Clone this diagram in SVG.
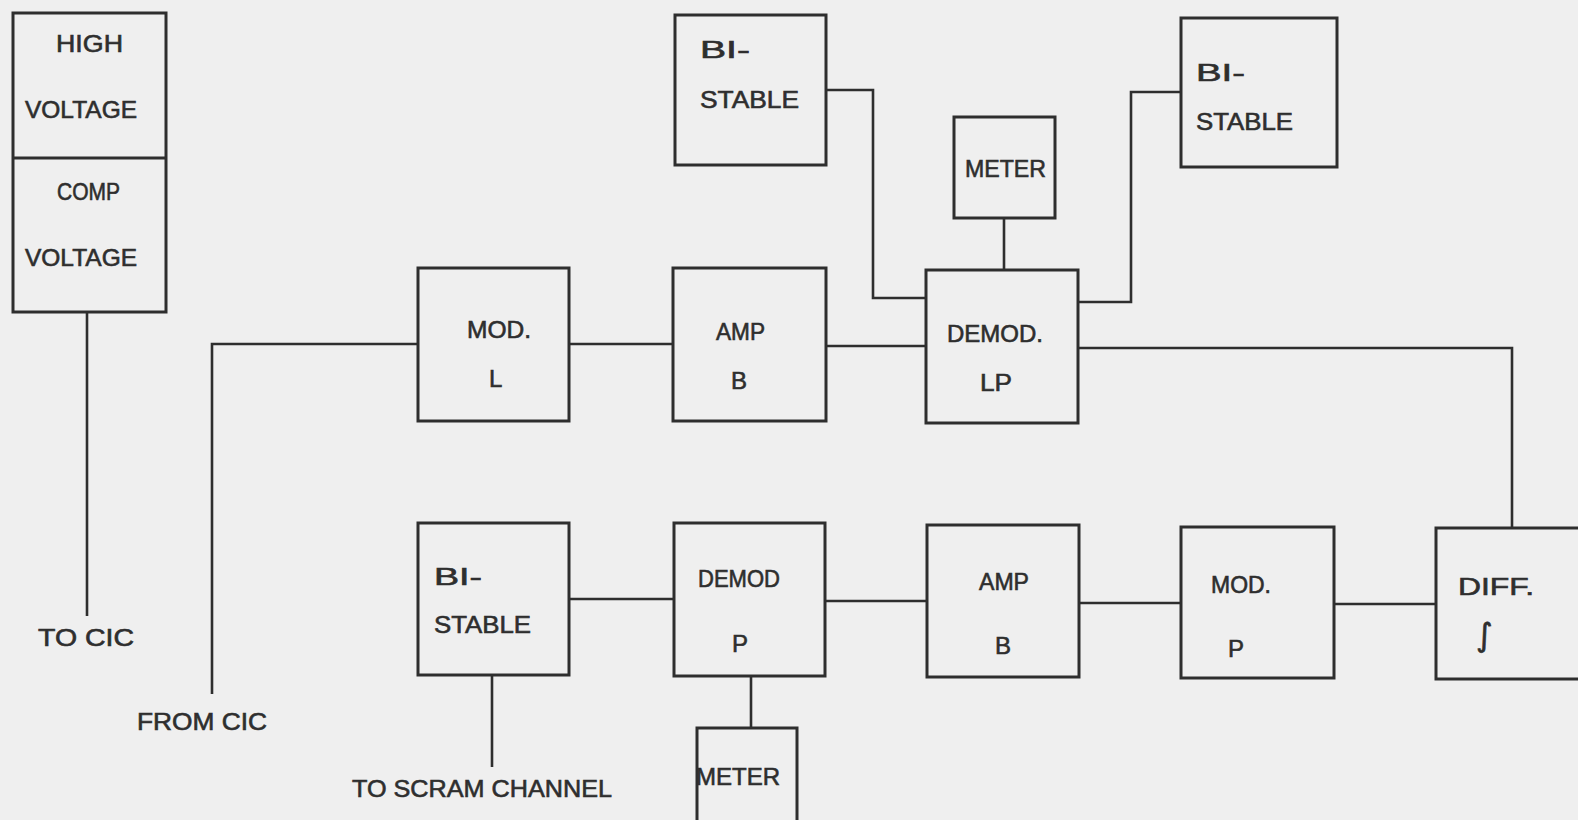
<svg xmlns="http://www.w3.org/2000/svg" width="1578" height="820" viewBox="0 0 1578 820">
<style>
.box{fill:none;stroke:#2e2e2e;stroke-width:3}
.wire{fill:none;stroke:#2e2e2e;stroke-width:2.6}
text{font-family:"Liberation Sans",Arial,sans-serif;font-size:24px;fill:#2e2e2e;stroke:#2e2e2e;stroke-width:0.6}
</style>
<rect x="0" y="0" width="1578" height="820" fill="#efefef"/>
<g id="connectors">
<path class="wire" d="M87 313 V616"/>
<path class="wire" d="M212 694 V344 H418"/>
<path class="wire" d="M569 344 H674"/>
<path class="wire" d="M826 346 H926"/>
<path class="wire" d="M826 90 H873 V298 H926"/>
<path class="wire" d="M1004 218 V270"/>
<path class="wire" d="M1078 302 H1131 V92 H1181"/>
<path class="wire" d="M1078 348 H1512 V528"/>
<path class="wire" d="M569 599 H674"/>
<path class="wire" d="M825 601 H927"/>
<path class="wire" d="M1079 603 H1181"/>
<path class="wire" d="M1334 604 H1436"/>
<path class="wire" d="M492 675 V767"/>
<path class="wire" d="M751 676 V728"/>
</g>
<g id="hv-comp">
<rect class="box" x="13" y="13" width="153" height="299"/>
<line class="box" x1="13" y1="158" x2="166" y2="158"/>
<text x="56" y="52" textLength="67" lengthAdjust="spacingAndGlyphs">HIGH</text>
<text x="25" y="118" textLength="112" lengthAdjust="spacingAndGlyphs">VOLTAGE</text>
<text x="57" y="200" textLength="63" lengthAdjust="spacingAndGlyphs">COMP</text>
<text x="25" y="266" textLength="112" lengthAdjust="spacingAndGlyphs">VOLTAGE</text>
</g>
<g id="to-cic"><text x="38" y="646" textLength="96" lengthAdjust="spacingAndGlyphs">TO CIC</text></g>
<g id="from-cic"><text x="137" y="730" textLength="130" lengthAdjust="spacingAndGlyphs">FROM CIC</text></g>
<g id="mod-l">
<rect class="box" x="418" y="268" width="151" height="153"/>
<text x="467" y="338" textLength="64" lengthAdjust="spacingAndGlyphs">MOD.</text>
<text x="489" y="387">L</text>
</g>
<g id="amp-b-top">
<rect class="box" x="673" y="268" width="153" height="153"/>
<text x="716" y="340" textLength="49" lengthAdjust="spacingAndGlyphs">AMP</text>
<text x="731" y="389">B</text>
</g>
<g id="demod-lp">
<rect class="box" x="926" y="270" width="152" height="153"/>
<text x="947" y="342" textLength="96" lengthAdjust="spacingAndGlyphs">DEMOD.</text>
<text x="980" y="391" textLength="32" lengthAdjust="spacingAndGlyphs">LP</text>
</g>
<g id="bistable-top-left">
<rect class="box" x="675" y="15" width="151" height="150"/>
<text x="700" y="58" textLength="50" lengthAdjust="spacingAndGlyphs">BI-</text>
<text x="700" y="108" textLength="99" lengthAdjust="spacingAndGlyphs">STABLE</text>
</g>
<g id="meter-top">
<rect class="box" x="954" y="117" width="101" height="101"/>
<text x="965" y="177" textLength="81" lengthAdjust="spacingAndGlyphs">METER</text>
</g>
<g id="bistable-top-right">
<rect class="box" x="1181" y="18" width="156" height="149"/>
<text x="1196" y="81" textLength="49" lengthAdjust="spacingAndGlyphs">BI-</text>
<text x="1196" y="130" textLength="97" lengthAdjust="spacingAndGlyphs">STABLE</text>
</g>
<g id="bistable-bottom">
<rect class="box" x="418" y="523" width="151" height="152"/>
<text x="434" y="585" textLength="48" lengthAdjust="spacingAndGlyphs">BI-</text>
<text x="434" y="633" textLength="97" lengthAdjust="spacingAndGlyphs">STABLE</text>
</g>
<g id="to-scram"><text x="352" y="797" textLength="260" lengthAdjust="spacingAndGlyphs">TO SCRAM CHANNEL</text></g>
<g id="demod-p">
<rect class="box" x="674" y="523" width="151" height="153"/>
<text x="698" y="587" textLength="82" lengthAdjust="spacingAndGlyphs">DEMOD</text>
<text x="732" y="652">P</text>
</g>
<g id="meter-bottom">
<rect class="box" x="697" y="728" width="100" height="100"/>
<text x="696" y="785" textLength="84" lengthAdjust="spacingAndGlyphs">METER</text>
</g>
<g id="amp-b-bottom">
<rect class="box" x="927" y="525" width="152" height="152"/>
<text x="979" y="590" textLength="50" lengthAdjust="spacingAndGlyphs">AMP</text>
<text x="995" y="654">B</text>
</g>
<g id="mod-p">
<rect class="box" x="1181" y="527" width="153" height="151"/>
<text x="1211" y="593" textLength="60" lengthAdjust="spacingAndGlyphs">MOD.</text>
<text x="1228" y="657">P</text>
</g>
<g id="diff-int">
<rect class="box" x="1436" y="528" width="160" height="151"/>
<text x="1458" y="595" textLength="76" lengthAdjust="spacingAndGlyphs">DIFF.</text>
<text x="1476" y="646" style="font-family:'DejaVu Sans',sans-serif;font-size:32px">∫</text>
</g>
</svg>
